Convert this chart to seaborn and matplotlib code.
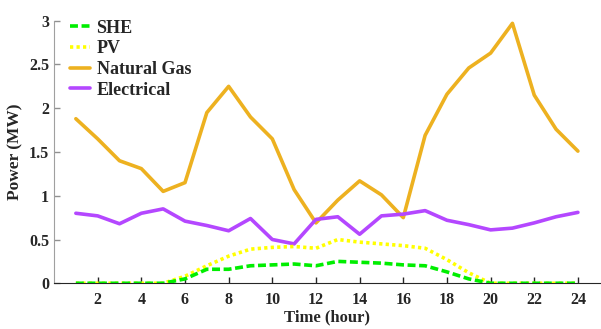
import matplotlib
matplotlib.use("Agg")
import matplotlib.pyplot as plt
import seaborn as sns
import pandas as pd

hours = list(range(1, 25))
she = [0, 0, 0, 0, 0, 0.05, 0.16, 0.16, 0.20, 0.21, 0.22, 0.20,
       0.25, 0.24, 0.23, 0.21, 0.20, 0.13, 0.05, 0, 0, 0, 0, 0]
pv = [0, 0, 0, 0, 0, 0.08, 0.20, 0.31, 0.39, 0.41, 0.42, 0.40,
      0.50, 0.47, 0.45, 0.43, 0.40, 0.27, 0.12, 0, 0, 0, 0, 0]
gas = [1.88, 1.65, 1.40, 1.31, 1.05, 1.15, 1.95, 2.25, 1.90, 1.65, 1.07, 0.69,
       0.95, 1.17, 1.01, 0.75, 1.69, 2.16, 2.46, 2.63, 2.97, 2.15, 1.76, 1.51]
elec = [0.80, 0.77, 0.68, 0.80, 0.85, 0.71, 0.66, 0.60, 0.74, 0.50, 0.45, 0.73,
        0.76, 0.56, 0.77, 0.79, 0.83, 0.72, 0.67, 0.61, 0.63, 0.69, 0.76, 0.81]
xticks = [2, 4, 6, 8, 10, 12, 14, 16, 18, 20, 22, 24]
yticks = [0, 0.5, 1, 1.5, 2, 2.5, 3]
ytick_labels = ["0", "0.5", "1", "1.5", "2", "2.5", "3"]

sns.set_style("white")
plt.rcParams['font.family'] = ['Liberation Serif', 'DejaVu Serif']
plt.rcParams['font.weight'] = 'bold'
plt.rcParams['axes.labelweight'] = 'bold'

fig = plt.figure(figsize=(6.01, 3.29), dpi=100)
ax = fig.add_axes([0.0899, 0.139, 0.908, 0.798])

series = [
    ("SHE", she, "#00ee00", (0, (2.2, 1.0)), 4),
    ("PV", pv, "#ffff00", (0, (0.9, 0.9)), 3),
    ("Natural Gas", gas, "#edb120", "-", 2),
    ("Electrical", elec, "#b447ff", "-", 2),
]
for name, vals, col, ls, z in series:
    df = pd.DataFrame({"hour": hours, "val": vals})
    sns.lineplot(data=df, x="hour", y="val", ax=ax, color=col, linestyle=ls,
                 linewidth=2.6, label=name, zorder=z)

ax.set_xlim(0, 25)
ax.set_ylim(0, 3)
ax.set_xticks(xticks)
ax.set_yticks(yticks)
ax.set_yticklabels(ytick_labels)
ax.tick_params(axis='both', labelsize=11.5, direction='in', length=4.3, width=1,
               colors='#262626', bottom=True, left=True)
ax.tick_params(axis='x', pad=6)
ax.tick_params(axis='y', pad=3.5, color='#909090')
for lab in ax.get_xticklabels() + ax.get_yticklabels():
    lab.set_fontweight('bold')
ax.set_xlabel("Time (hour)", fontsize=12, fontweight='bold', labelpad=1)
ax.set_ylabel("Power (MW)", fontsize=12.5, fontweight='bold', labelpad=4)
for s in ['top', 'right']:
    ax.spines[s].set_visible(False)
ax.spines['left'].set_color('#a0a0a0')
ax.spines['bottom'].set_color('#262626')

leg = ax.legend(loc='upper left', frameon=False, handlelength=1.1,
                prop={'weight': 'bold', 'size': 13},
                handletextpad=0.35, labelspacing=0.2, borderaxespad=0.2,
                bbox_to_anchor=(0.01, 1.045))

fig.savefig("out.png", dpi=100)
